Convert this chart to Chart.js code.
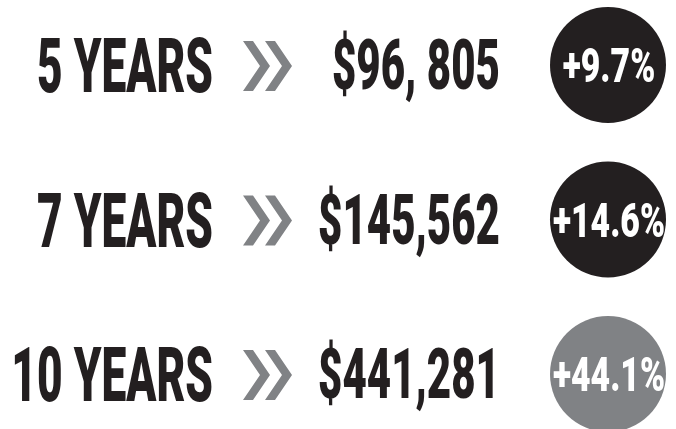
<!DOCTYPE html>
<html>
<head>
<meta charset="utf-8">
<script src="https://cdn.jsdelivr.net/npm/chart.js@4"></script>
<style>
  html, body { margin: 0; padding: 0; background: #ffffff; }
  #wrap { width: 676px; height: 429px; }
</style>
</head>
<body>
<div id="wrap"><canvas id="growthChart"></canvas></div>
<script>
const periods = ["5 YEARS", "7 YEARS", "10 YEARS"];
const amountLabels = ["$96, 805", "$145,562", "$441,281"];
const growthPct = [9.7, 14.6, 44.1];

const INK = "#231f20";
const GREY = "#808285";
const FONT = "Roboto, 'Liberation Sans', sans-serif";

/* ================================
   Draw condensed text (scaled on x)
================================ */
function condensedText(ctx, text, x, y, size, sx, align, color) {
    ctx.save();
    ctx.font = "900 " + size + "px " + FONT;
    ctx.fillStyle = color;
    ctx.textBaseline = "alphabetic";
    const w = ctx.measureText(text).width * sx;
    let left = x;
    if (align === "right") left = x - w;
    if (align === "center") left = x - w / 2;
    ctx.translate(left, y);
    ctx.scale(sx, 1);
    ctx.textAlign = "left";
    ctx.fillText(text, 0, 0);
    ctx.restore();
}

function chevron(ctx, a, cy, h, t, d) {
    ctx.beginPath();
    ctx.moveTo(a, cy - h);
    ctx.lineTo(a + t, cy - h);
    ctx.lineTo(a + t + d, cy);
    ctx.lineTo(a + t, cy + h);
    ctx.lineTo(a, cy + h);
    ctx.lineTo(a + d, cy);
    ctx.closePath();
    ctx.fill();
}

const rowText = {
    id: "rowText",
    afterDatasetsDraw(chart) {
        const ctx = chart.ctx;
        const y = chart.scales.y;
        const x = chart.scales.x;

        // horizontal squeeze from reference widths
        ctx.font = "900 76px " + FONT;
        const sxYears = 176 / ctx.measureText("7 YEARS").width;
        ctx.font = "900 70px " + FONT;
        const sxAmt = 182 / ctx.measureText("$145,562").width;
        ctx.font = "900 48px " + FONT;
        const sxPct = 112 / ctx.measureText("+14.6%").width;

        periods.forEach(function (p, i) {
            const cy = y.getPixelForValue(i);
            condensedText(ctx, p, 213, cy + 27, 76, sxYears, "right", INK);
            condensedText(ctx, amountLabels[i], 500, cy + 24, 70, sxAmt, "right", INK);

            ctx.fillStyle = GREY;
            chevron(ctx, 243, cy + 1, 25, 10, 17);
            chevron(ctx, 265, cy + 1, 25, 10, 17);

            const cx = x.getPixelForValue(0);
            condensedText(ctx, "+" + growthPct[i].toFixed(1) + "%", cx + 1, cy + 17, 48, sxPct, "center", "#ffffff");
        });
    }
};

const ctx = document.getElementById("growthChart").getContext("2d");
new Chart(ctx, {
    type: "scatter",
    data: {
        datasets: [{
            label: "Growth",
            data: growthPct.map(function (v, i) {
                return { x: "change", y: periods[i], v: v };
            }),
            backgroundColor: [INK, INK, GREY],
            borderWidth: 0,
            pointRadius: 58,
            pointHoverRadius: 58,
            clip: false,
        }],
    },
    options: {
        responsive: true,
        maintainAspectRatio: false,
        animation: false,
        layout: {
            autoPadding: false,
            padding: { top: 65, bottom: 55, left: 540, right: 0 },
        },
        plugins: {
            legend: { display: false },
            tooltip: { enabled: false },
        },
        scales: {
            x: {
                type: "category",
                labels: ["change"],
                offset: true,
                display: false,
            },
            y: {
                type: "category",
                labels: periods,
                offset: false,
                display: false,
            },
        },
    },
    plugins: [rowText],
});
</script>
</body>
</html>
